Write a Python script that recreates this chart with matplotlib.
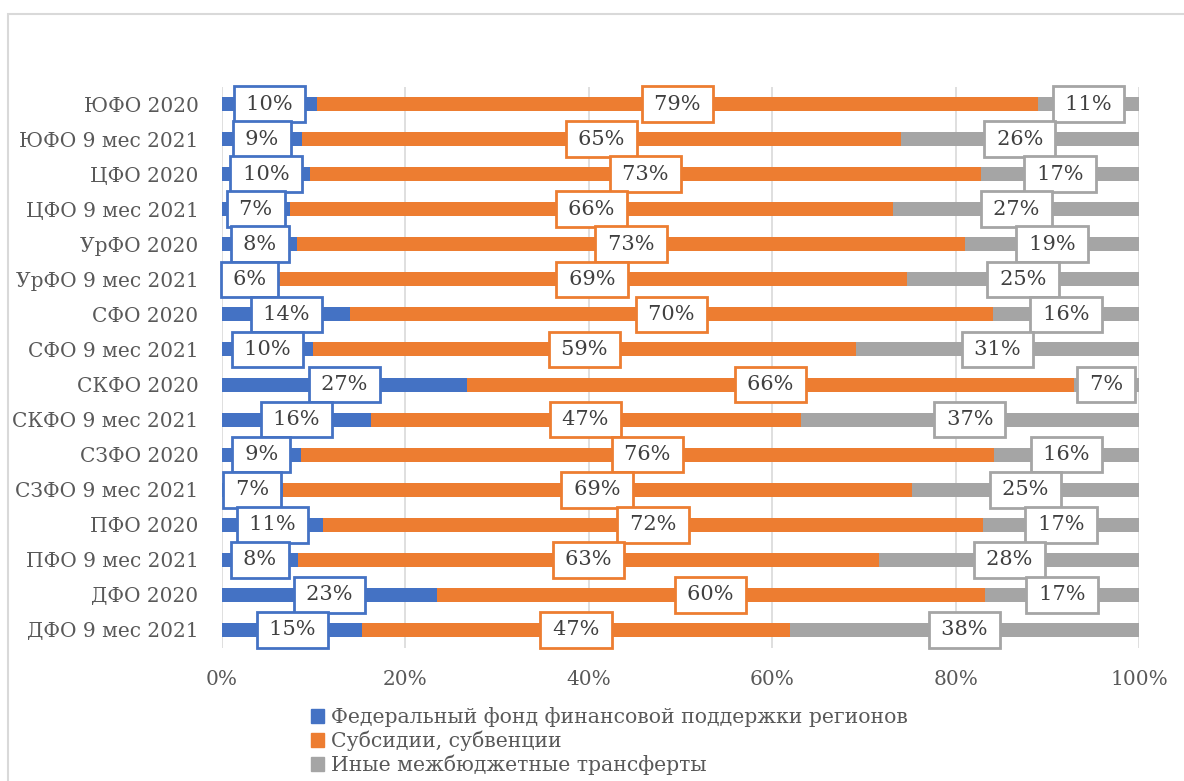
import numpy as np
import matplotlib
matplotlib.use("Agg")
import matplotlib.pyplot as plt
import matplotlib.patches as patches

categories = ["ЮФО 2020", "ЮФО 9 мес 2021", "ЦФО 2020", "ЦФО 9 мес 2021",
              "УрФО 2020", "УрФО 9 мес 2021", "СФО 2020", "СФО 9 мес 2021",
              "СКФО 2020", "СКФО 9 мес 2021", "СЗФО 2020", "СЗФО 9 мес 2021",
              "ПФО 2020", "ПФО 9 мес 2021", "ДФО 2020", "ДФО 9 мес 2021"]
federal_fund = [10.4, 8.7, 9.6, 7.4, 8.2, 6.0, 14.0, 9.9, 26.7, 16.2, 8.6, 6.6, 11.0, 8.3, 23.4, 15.3]
subsidies = [78.6, 65.3, 73.2, 65.8, 72.8, 68.7, 70.1, 59.2, 66.2, 46.9, 75.6, 68.6, 72.0, 63.4, 59.8, 46.6]
other = [11.0, 26.0, 17.2, 26.8, 19.0, 25.3, 15.9, 30.9, 7.1, 36.9, 15.8, 24.8, 17.0, 28.3, 16.8, 38.1]
series_names = ["Федеральный фонд финансовой поддержки регионов",
                "Субсидии, субвенции",
                "Иные межбюджетные трансферты"]
colors = ["#4472C4", "#ED7D31", "#A5A5A5"]
xticks = [0, 20, 40, 60, 80, 100]

TEXT = "#595959"
plt.rcParams["font.family"] = ["DejaVu Serif"]

W, H = 1184, 781
fig = plt.figure(figsize=(W / 100, H / 100), dpi=100)
ax = fig.add_axes([222 / W, 1 - 647.5 / H, (1139 - 222) / W, (647.5 - 86.5) / H])

# chart frame (only left and top edges fall inside the picture)
fig.add_artist(patches.Rectangle((8 / W, -0.2), 1.2, 1 - 14 / H + 0.2,
                                 transform=fig.transFigure, fill=False,
                                 edgecolor="#d9d9d9", linewidth=1.5))

y = np.arange(len(categories))
left = np.zeros(len(categories))
for vals, name, col in zip([federal_fund, subsidies, other], series_names, colors):
    vals = np.array(vals)
    ax.barh(y, vals, left=left, height=0.4, color=col, label=name, zorder=2)
    for yi, (l, v) in enumerate(zip(left, vals)):
        ax.text(l + v / 2, yi, f"\u2009{int(v + 0.5)}%\u2009", ha="center", va="center",
                fontsize=15, color="#404040", zorder=4,
                bbox=dict(boxstyle="square,pad=0.4", facecolor="white",
                          edgecolor=col, linewidth=2))
    left = left + vals

ax.set_xlim(0, 100)
ax.set_ylim(len(categories) - 0.5, -0.5)
ax.set_yticks(y)
ax.set_yticklabels(categories, fontsize=14.5, color=TEXT)
ax.set_xticks(xticks)
ax.set_xticklabels([f"{t}%" for t in xticks], fontsize=14.5, color=TEXT)
ax.tick_params(axis="both", length=0)
ax.tick_params(axis="y", pad=17)
ax.tick_params(axis="x", pad=16)
for s in ax.spines.values():
    s.set_visible(False)
ax.grid(axis="x", color="#d9d9d9", linewidth=1.2, zorder=0)
ax.set_axisbelow(True)

handles = [patches.Patch(color=c) for c in colors]
fig.legend(handles, series_names, loc="upper left",
           bbox_to_anchor=(303 / W, 1 - 699 / H), frameon=False,
           fontsize=14.7, labelcolor=TEXT, handlelength=0.65, handleheight=0.65,
           handletextpad=0.3, labelspacing=0.17, borderaxespad=0)

fig.savefig("out.png", dpi=100)
